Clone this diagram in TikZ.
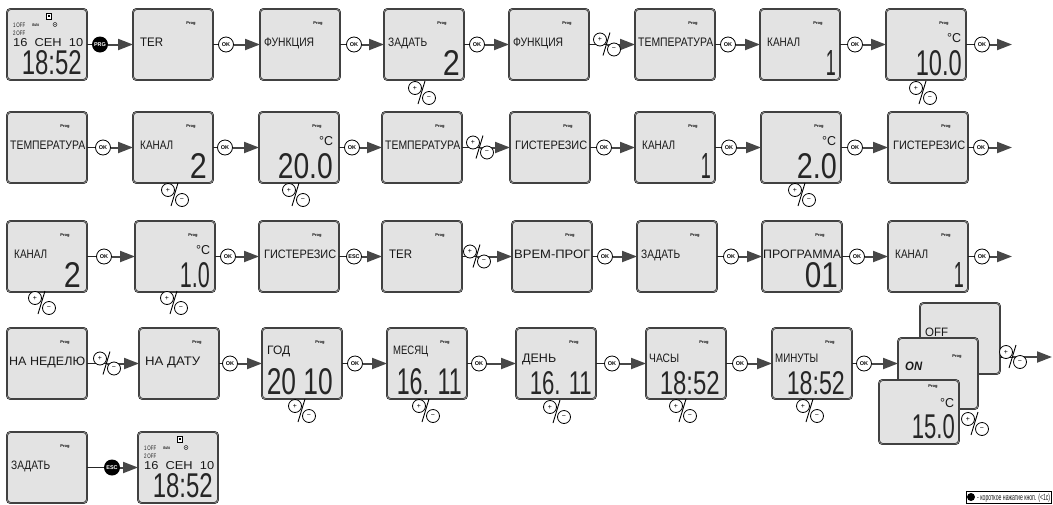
\documentclass[tikz,border=0pt]{standalone}
\usepackage{fontspec}
\usepackage{graphicx}
\usetikzlibrary{arrows.meta}
\newfontfamily\lcdf{Liberation Sans}
\definecolor{lcdfill}{HTML}{E3E3E3}
\definecolor{arrgray}{HTML}{474747}
\tikzset{
 lcd/.style={anchor=north west, draw=black!90, line width=0.55pt, double=black!45, double distance=0.8pt, fill=lcdfill, rounded corners=3.5pt, minimum width=80pt, minimum height=71pt, inner sep=0pt, outer sep=0pt},
 okc/.style={circle, draw=black, line width=0.8pt, fill=white, minimum size=15pt, inner sep=0pt, font=\lcdf\bfseries\fontsize{5.5}{5.5}\selectfont},
 blk/.style={circle, fill=black, text=white, minimum size=16pt, inner sep=0pt, font=\lcdf\bfseries\fontsize{5.5}{5.5}\selectfont},
 thinln/.style={draw=black!85, line width=0.9pt},
 arr/.style={draw=arrgray, line width=2pt, -{Triangle[length=15pt,width=11pt]}},
 progt/.style={inner sep=0pt, font=\lcdf\bfseries\fontsize{4}{4}\selectfont},
 lblt/.style={inner sep=0pt, anchor=base west, font=\lcdf, text=black!90},
 bigt/.style={inner sep=0pt, anchor=base east, font=\lcdf, text=black!85},
 pmc/.style={circle, draw=black, line width=0.8pt, fill=white, minimum size=13pt, inner sep=0pt, font=\lcdf\fontsize{7}{7}\selectfont},
 pm/.pic={\draw[black, line width=0.9pt] (-4,11) -- (3,-12);
   \node[pmc] at (-7,-5) {+};
   \node[pmc] at (7,5) {−};},
}
\newcommand\inbox[2]{\begin{scope}[shift={(#1.north west)}]#2\end{scope}}
\newcommand\progmark[1]{\node[progt] (#1p) at (58,15) {Prog};}
\newcommand\lbl[5]{\node[lblt] (#1l) at (#2,#3) {\resizebox{#4pt}{8.5pt}{#5}};}
\newcommand\bignum[6]{\node[bigt] (#1g) at (#2,#3) {\resizebox{#4pt}{#5pt}{#6}};}
\newcommand\degc[3]{\node[lblt] (#1c) at (#2,#3) {\resizebox{14pt}{9pt}{°C}};}
\newcommand\clockface[1]{%
 \node[draw=black, line width=0.6pt, fill=white, minimum width=5pt, minimum height=6pt, inner sep=0pt] (#1i) at (42,7) {};
 \node[fill=black, minimum width=2.5pt, minimum height=2pt, inner sep=0pt] (#1j) at (42,6.5) {};
 \node[lblt] (#1a) at (6,18) {\resizebox{12pt}{4.5pt}{1\,OFF}};
 \node[lblt] (#1b) at (25,17.5) {\resizebox{7pt}{3pt}{\bfseries Auto}};
 \node[circle, draw=black, line width=0.4pt, minimum size=4pt, inner sep=0pt] (#1o) at (48,15.5) {};
 \fill (48,15.5) circle (0.6pt);
 \node[lblt] (#1d) at (6,26) {\resizebox{12pt}{4.5pt}{2\,OFF}};
 \node[lblt] (#1e) at (6,37) {\resizebox{70pt}{8pt}{16\ \ СЕН\ \ 10}};
 \node[bigt] (#1g) at (75,65) {\resizebox{60pt}{24pt}{18:52}};
}
\begin{document}
\begin{tikzpicture}[x=1pt,y=-1pt]
\fill[white] (0,0) rectangle (1053,504);
\useasboundingbox (0,0) rectangle (1053,504);
% ---------- row 1
\node[lcd] (b11) at (7,9) {}; \inbox{b11}{\clockface{b11}}
\node[lcd] (b12) at (133,9) {}; \inbox{b12}{\progmark{b12}\lbl{b12}{7}{37}{23}{TER}}
\node[lcd] (b13) at (260,9) {}; \inbox{b13}{\progmark{b13}\lbl{b13}{4}{37}{50}{ФУНКЦИЯ}}
\node[lcd] (b14) at (384,9) {}; \inbox{b14}{\progmark{b14}\lbl{b14}{4}{37}{39}{ЗАДАТЬ}\bignum{b14}{76}{66}{17}{25}{2}}
\node[lcd] (b15) at (509,9) {}; \inbox{b15}{\progmark{b15}\lbl{b15}{4}{37}{50}{ФУНКЦИЯ}}
\node[lcd] (b16) at (635,9) {}; \inbox{b16}{\progmark{b16}\lbl{b16}{3}{37}{75}{ТЕМПЕРАТУРА}}
\node[lcd] (b17) at (760,9) {}; \inbox{b17}{\progmark{b17}\lbl{b17}{7}{37}{33}{КАНАЛ}\bignum{b17}{76}{66}{10}{25}{1}}
\node[lcd] (b18) at (886,9) {}; \inbox{b18}{\progmark{b18}\degc{b18}{61}{33}\bignum{b18}{76}{66}{46}{25}{10.0}}
% ---------- row 2
\node[lcd] (b21) at (7,112) {}; \inbox{b21}{\progmark{b21}\lbl{b21}{3}{37}{75}{ТЕМПЕРАТУРА}}
\node[lcd] (b22) at (133,112) {}; \inbox{b22}{\progmark{b22}\lbl{b22}{7}{37}{33}{КАНАЛ}\bignum{b22}{74}{66}{17}{25}{2}}
\node[lcd] (b23) at (259,112) {}; \inbox{b23}{\progmark{b23}\degc{b23}{60}{33}\bignum{b23}{74}{66}{55}{25}{20.0}}
\node[lcd] (b24) at (382,112) {}; \inbox{b24}{\progmark{b24}\lbl{b24}{3}{37}{75}{ТЕМПЕРАТУРА}}
\node[lcd] (b25) at (510,112) {}; \inbox{b25}{\progmark{b25}\lbl{b25}{5}{37}{72}{ГИСТЕРЕЗИС}}
\node[lcd] (b26) at (635,112) {}; \inbox{b26}{\progmark{b26}\lbl{b26}{7}{37}{33}{КАНАЛ}\bignum{b26}{76}{66}{10}{25}{1}}
\node[lcd] (b27) at (761,112) {}; \inbox{b27}{\progmark{b27}\degc{b27}{61}{33}\bignum{b27}{76}{66}{40}{25}{2.0}}
\node[lcd] (b28) at (888,112) {}; \inbox{b28}{\progmark{b28}\lbl{b28}{5}{37}{72}{ГИСТЕРЕЗИС}}
% ---------- row 3
\node[lcd] (b31) at (7,221) {}; \inbox{b31}{\progmark{b31}\lbl{b31}{7}{37}{33}{КАНАЛ}\bignum{b31}{74}{66}{17}{25}{2}}
\node[lcd] (b32) at (135,221) {}; \inbox{b32}{\progmark{b32}\degc{b32}{61}{33}\bignum{b32}{75}{66}{30}{25}{1.0}}
\node[lcd] (b33) at (259,221) {}; \inbox{b33}{\progmark{b33}\lbl{b33}{5}{37}{72}{ГИСТЕРЕЗИС}}
\node[lcd] (b34) at (382,221) {}; \inbox{b34}{\progmark{b34}\lbl{b34}{7}{37}{23}{TER}}
\node[lcd] (b35) at (512,221) {}; \inbox{b35}{\progmark{b35}\lbl{b35}{2}{37}{76}{ВРЕМ-ПРОГ}}
\node[lcd] (b36) at (637,221) {}; \inbox{b36}{\progmark{b36}\lbl{b36}{4}{37}{39}{ЗАДАТЬ}}
\node[lcd] (b37) at (762,221) {}; \inbox{b37}{\progmark{b37}\lbl{b37}{1}{37}{78}{ПРОГРАММА}\bignum{b37}{76}{66}{33}{25}{01}}
\node[lcd] (b38) at (888,221) {}; \inbox{b38}{\progmark{b38}\lbl{b38}{7}{37}{33}{КАНАЛ}\bignum{b38}{76}{66}{10}{25}{1}}
% ---------- row 4
\node[lcd] (b41) at (7,328) {}; \inbox{b41}{\progmark{b41}\lbl{b41}{2}{37}{76}{НА НЕДЕЛЮ}}
\node[lcd] (b42) at (139,328) {}; \inbox{b42}{\progmark{b42}\lbl{b42}{6}{37}{55}{НА ДАТУ}}
\node[lcd] (b43) at (262,328) {}; \inbox{b43}{\progmark{b43}\lbl{b43}{5}{26}{23}{ГОД}\bignum{b43}{71}{66}{66}{26}{20 10}}
\node[lcd] (b44) at (387,328) {}; \inbox{b44}{\progmark{b44}\lbl{b44}{6}{26}{35}{МЕСЯЦ}\bignum{b44}{75}{66}{65}{26}{16. 11}}
\node[lcd] (b45) at (516,328) {}; \inbox{b45}{\progmark{b45}\lbl{b45}{6}{34}{34}{ДЕНЬ}\bignum{b45}{76}{66}{62}{23}{16. 11}}
\node[lcd] (b46) at (646,328) {}; \inbox{b46}{\progmark{b46}\lbl{b46}{3}{34}{30}{ЧАСЫ}\bignum{b46}{74}{66}{60}{23}{18:52}}
\node[lcd] (b47) at (772,328) {}; \inbox{b47}{\progmark{b47}\lbl{b47}{3}{34}{43}{МИНУТЫ}\bignum{b47}{73}{66}{58}{23}{18:52}}
% stacked
\node[lcd] (off) at (920,303) {}; \inbox{off}{\lbl{off}{5}{33}{23}{OFF}}
\node[lcd] (on) at (898,338) {}; \inbox{on}{\node[progt] (onp) at (59,19) {Prog};\lbl{on}{7}{32}{17}{\bfseries\itshape ON}}
\node[lcd, minimum height=64pt] (t15) at (879,380) {}; \inbox{t15}{\node[progt] (t15p) at (54,7) {Prog};\degc{t15}{61}{27}\bignum{t15}{76}{58}{43}{24}{15.0}}
% ---------- row 5
\node[lcd] (b51) at (7,432) {}; \inbox{b51}{\progmark{b51}\lbl{b51}{4}{37}{39}{ЗАДАТЬ}}
\node[lcd] (b52) at (138,432) {}; \inbox{b52}{\clockface{b52}}
% ---------- button circles
\node[blk] (prg) at (100,44.5) {PRG};
\node[okc] (o12) at (226,44.5) {OK};
\node[okc] (o13) at (354,44.5) {OK};
\node[okc] (o14) at (477,44.5) {OK};
\coordinate (pm1) at (607,44.5);
\node[okc] (o16) at (728,44.5) {OK};
\node[okc] (o17) at (855,44.5) {OK};
\node[okc] (o18) at (982,44.5) {OK};
\coordinate (e1) at (1012,44.5);
\node[okc] (o21) at (103,147.5) {OK};
\node[okc] (o22) at (225,147.5) {OK};
\node[okc] (o23) at (352,147.5) {OK};
\coordinate (pm2) at (480,147.5);
\node[okc] (o25) at (604,147.5) {OK};
\node[okc] (o26) at (729,147.5) {OK};
\node[okc] (o27) at (855,147.5) {OK};
\node[okc] (o28) at (981,147.5) {OK};
\coordinate (e2) at (1012,147.5);
\node[okc] (o31) at (104,256.5) {OK};
\node[okc] (o32) at (228,256.5) {OK};
\node[okc] (esc3) at (354,256.5) {ESC};
\coordinate (pm3) at (477,256.5);
\node[okc] (o35) at (605,256.5) {OK};
\node[okc] (o36) at (731,256.5) {OK};
\node[okc] (o37) at (857,256.5) {OK};
\node[okc] (o38) at (982,256.5) {OK};
\coordinate (e3) at (1012,256.5);
\coordinate (pm4) at (107,363.5);
\node[okc] (o42) at (230,363.5) {OK};
\node[okc] (o43) at (355,363.5) {OK};
\node[okc] (o44) at (479,363.5) {OK};
\node[okc] (o45) at (612,363.5) {OK};
\node[okc] (o46) at (740,363.5) {OK};
\node[okc] (o47) at (864,363.5) {OK};
\coordinate (pmo) at (1013,357);
\coordinate (e4) at (1052,357);
\node[blk] (esc5) at (112,467.5) {ESC};
% ---------- connectors
\foreach \a/\o/\b in {b11/prg/b12, b12/o12/b13, b13/o13/b14, b14/o14/b15, b15/pm1/b16, b16/o16/b17, b17/o17/b18,
  b21/o21/b22, b22/o22/b23, b23/o23/b24, b24/pm2/b25, b25/o25/b26, b26/o26/b27, b27/o27/b28,
  b31/o31/b32, b32/o32/b33, b33/esc3/b34, b34/pm3/b35, b35/o35/b36, b36/o36/b37, b37/o37/b38,
  b41/pm4/b42, b42/o42/b43, b43/o43/b44, b44/o44/b45, b45/o45/b46, b46/o46/b47, b51/esc5/b52}
  {\draw[thinln] (\a) -- (\o); \draw[arr] (\o) -- (\b);}
\foreach \a/\o/\b in {b18/o18/e1, b28/o28/e2, b38/o38/e3}
  {\draw[thinln] (\a) -- (\o); \draw[arr] (\o) -- (\b);}
\draw[thinln] (b47) -- (o47);
\draw[arr] (o47) -- (o47 -| on.west);
\draw[thinln] (off.east |- pmo) -- (pmo);
\draw[arr] (pmo) -- (e4);
% ---------- +/- symbols
\foreach \p in {pm1, pm2, pm3, pm4, pmo} {\pic at (\p) {pm};}
\foreach \x/\y in {422/93, 923/93, 175/195, 296/195, 802/195, 42/303, 174/303,
  302/411, 426/411, 557/412, 683/411, 810/411, 975/424}
  {\pic at (\x,\y) {pm};}
% ---------- legend
\node[draw=black, line width=0.6pt, anchor=north west, minimum width=85pt, minimum height=12pt, inner sep=0pt] (legend) at (966,491) {};
\node[circle, fill=black, minimum size=8pt, inner sep=0pt] (ldot) at (971,497) {};
\node[lblt] (ltxt) at (977,500.5) {\resizebox{73pt}{6.5pt}{- короткое нажатие кноп. (<1с)}};
\end{tikzpicture}
\end{document}
